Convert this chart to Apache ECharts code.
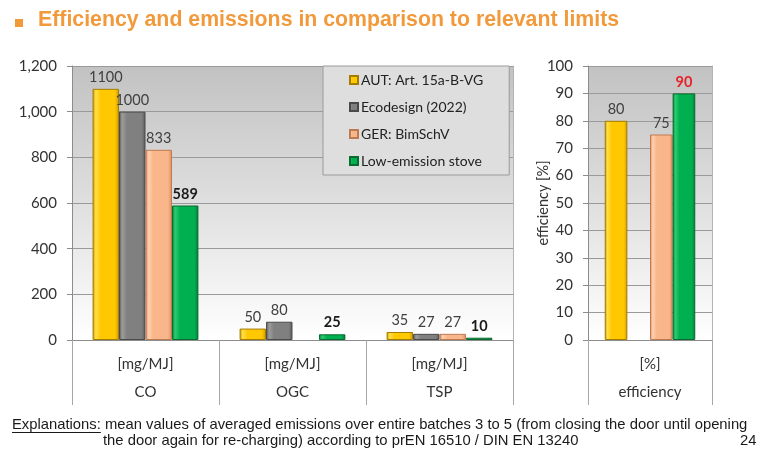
<!DOCTYPE html>
<html>
<head>
<meta charset="utf-8">
<script src="https://cdn.jsdelivr.net/npm/echarts@6/dist/echarts.min.js"></script>
<style>
  html, body { margin: 0; padding: 0; background: #ffffff; }
  #chart { width: 760px; height: 450px; }
</style>
</head>
<body>
<div id="chart"></div>
<script>
// Pollutant categories (left panel) and their unit row
const categories = ['CO', 'OGC', 'TSP'];
const units = ['[mg/MJ]', '[mg/MJ]', '[mg/MJ]'];
// Efficiency panel (right)
const effCategories = ['efficiency'];
const effUnits = ['[%]'];

const seriesNames = ['AUT: Art. 15a-B-VG', 'Ecodesign (2022)', 'GER: BimSchV', 'Low-emission stove'];

// Emission limits / measured values [mg/MJ]
const autValues = [1100, 50, 35];
const ecoValues = [1000, 80, 27];
const gerValues = [833, null, 27];
const lowValues = [589, 25, 10];

// Efficiency [%]
const autEff = [80];
const ecoEff = [null];
const gerEff = [75];
const lowEff = [90];

// Emission axis ticks
const yTicks = [0, 200, 400, 600, 800, 1000, 1200];
const effTicks = [0, 10, 20, 30, 40, 50, 60, 70, 80, 90, 100];

const FONT = 'Lato, "Open Sans", sans-serif';

function bevel(dark, base, light) {
  return new echarts.graphic.LinearGradient(0, 0, 1, 0, [
    { offset: 0, color: dark },
    { offset: 0.12, color: light },
    { offset: 0.3, color: base },
    { offset: 0.85, color: base },
    { offset: 1, color: dark }
  ]);
}

const palette = [
  { fill: bevel('#c99700', '#ffc800', '#ffe04a'), border: '#a57c00' },
  { fill: bevel('#5a5a5a', '#808080', '#9c9c9c'), border: '#4a4a4a' },
  { fill: bevel('#d98e62', '#f9b68a', '#ffd0b0'), border: '#c07a52' },
  { fill: bevel('#067a36', '#00b050', '#2ccc70'), border: '#0a6a30' }
];

const plotBg = new echarts.graphic.LinearGradient(0, 0, 0, 1, [
  { offset: 0, color: '#c2c2c2' },
  { offset: 0.45, color: '#dcdcdc' },
  { offset: 1, color: '#ffffff' }
]);

const normalLabel = { show: true, position: 'top', distance: 4, fontFamily: FONT, fontSize: 14.5, color: '#404040' };
const boldLabel = Object.assign({}, normalLabel, { fontWeight: 'bold', color: '#1a1a1a' });
const redLabel = Object.assign({}, normalLabel, { fontWeight: 'bold', color: '#e8202a' });

function bar(i, data, gridIdx, label) {
  return {
    name: seriesNames[i],
    type: 'bar',
    xAxisIndex: gridIdx,
    yAxisIndex: gridIdx === 0 ? 0 : 2,
    data: data,
    barGap: '0%',
    barCategoryGap: gridIdx === 0 ? '28%' : '27%',
    itemStyle: { color: palette[i].fill, borderColor: palette[i].border, borderWidth: 1 },
    label: label,
    emphasis: { disabled: true }
  };
}

function xAxisFor(gridIdx, cats, unitRow) {
  return {
    type: 'category',
    gridIndex: gridIdx,
    data: cats,
    axisLine: { show: true, lineStyle: { color: '#8c8c8c' } },
    axisTick: { show: true, interval: 0, length: 65, lineStyle: { color: '#a6a6a6' } },
    axisLabel: {
      interval: 0,
      margin: 10,
      formatter: function (v, idx) { return '{u|' + unitRow[idx] + '}\n{c|' + v + '}'; },
      rich: {
        u: { fontFamily: FONT, fontSize: 15, color: '#333333', lineHeight: 28 },
        c: { fontFamily: FONT, fontSize: 15, color: '#333333', lineHeight: 28 }
      }
    }
  };
}

function valueAxis(gridIdx, ticks, fmt, extra) {
  return Object.assign({
    type: 'value',
    gridIndex: gridIdx,
    min: ticks[0],
    max: ticks[ticks.length - 1],
    interval: ticks[1] - ticks[0],
    axisLine: { show: true, lineStyle: { color: '#8c8c8c' } },
    axisTick: { show: true, length: 5, lineStyle: { color: '#8c8c8c' } },
    axisLabel: { fontFamily: FONT, fontSize: 15, color: '#333333', margin: 15, formatter: fmt },
    splitLine: { show: true, lineStyle: { color: '#9a9a9a' } }
  }, extra || {});
}

function rightEdge(gridIdx, ticks) {
  return {
    type: 'value', gridIndex: gridIdx, position: 'right',
    min: ticks[0], max: ticks[ticks.length - 1], interval: ticks[1] - ticks[0],
    axisLine: { show: true, lineStyle: { color: '#b4b4b4' } },
    axisTick: { show: false }, axisLabel: { show: false }, splitLine: { show: false }
  };
}

const chart = echarts.init(document.getElementById('chart'), null, { renderer: 'canvas' });

// width of the underlined lead word in the footnote
const measure = document.createElement('canvas').getContext('2d');
const noteFont = '14.8px "Liberation Sans", Arial, sans-serif';
measure.font = noteFont;
const leadWidth = measure.measureText('Explanations:').width;

chart.setOption({
  animation: false,
  backgroundColor: '#ffffff',
  grid: [
    { left: 72, right: 247, top: 66, bottom: 110, show: true, backgroundColor: plotBg, borderWidth: 0 },
    { left: 588, right: 48, top: 66, bottom: 110, show: true, backgroundColor: plotBg, borderWidth: 0 }
  ],
  legend: {
    data: seriesNames,
    orient: 'vertical',
    left: 323,
    top: 66,
    padding: [7, 26, 7, 26],
    itemGap: 13,
    itemWidth: 8,
    itemHeight: 8,
    icon: 'rect',
    backgroundColor: '#dedede',
    borderColor: '#9a9a9a',
    borderWidth: 1,
    selectedMode: false,
    textStyle: { fontFamily: FONT, fontSize: 14, color: '#222222', padding: [0, 0, 0, -2] }
  },
  xAxis: [
    xAxisFor(0, categories, units),
    xAxisFor(1, effCategories, effUnits)
  ],
  yAxis: [
    valueAxis(0, yTicks, function (v) { return v.toLocaleString('en-US'); }),
    rightEdge(0, yTicks),
    valueAxis(1, effTicks, null, {
      name: 'efficiency [%]',
      nameLocation: 'middle',
      nameRotate: 90,
      nameGap: 37,
      nameMoveOverlap: false,
      nameTextStyle: { fontFamily: FONT, fontSize: 14.5, color: '#333333' }
    }),
    rightEdge(1, effTicks)
  ],
  series: [
    bar(0, autValues, 0, normalLabel),
    bar(1, ecoValues, 0, normalLabel),
    bar(2, gerValues, 0, normalLabel),
    bar(3, lowValues, 0, boldLabel),
    bar(0, autEff, 1, normalLabel),
    bar(1, ecoEff, 1, normalLabel),
    bar(2, gerEff, 1, normalLabel),
    bar(3, lowEff, 1, redLabel)
  ],
  graphic: [
    { type: 'rect', left: 15, top: 19, shape: { width: 8, height: 8 }, style: { fill: '#f29a3b' } },
    {
      type: 'text', left: 38, top: 10,
      style: { text: 'Efficiency and emissions in comparison to relevant limits', font: 'bold 21.3px "Liberation Sans", Arial, sans-serif', fill: '#f29a3b' }
    },
    {
      type: 'text', left: 12, top: 417,
      style: { text: 'Explanations: mean values of averaged emissions over entire batches 3 to 5 (from closing the door until opening', font: noteFont, fill: '#1a1a1a' }
    },
    {
      type: 'line', shape: { x1: 12, y1: 432.5, x2: 12 + leadWidth, y2: 432.5 }, style: { stroke: '#1a1a1a', lineWidth: 1 }
    },
    {
      type: 'text', left: 103, top: 433,
      style: { text: 'the door again for re-charging) according to prEN 16510 / DIN EN 13240', font: noteFont, fill: '#1a1a1a' }
    },
    {
      type: 'text', left: 740, top: 433,
      style: { text: '24', font: noteFont, fill: '#1a1a1a' }
    }
  ]
});
</script>
</body>
</html>
